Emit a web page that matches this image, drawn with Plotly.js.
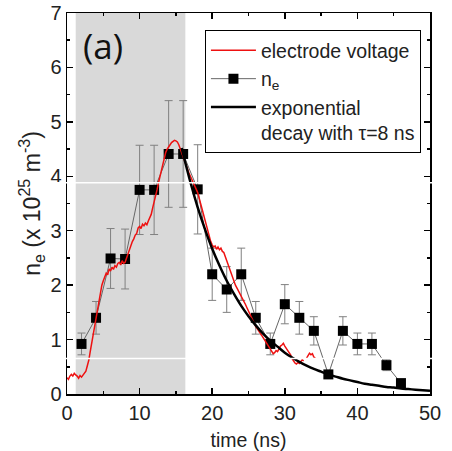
<!DOCTYPE html>
<html>
<head>
<meta charset="utf-8">
<script src="https://cdn.plot.ly/plotly-3.0.1.min.js"></script>
<style>html,body{margin:0;padding:0;background:#fff;}#chart{width:452px;height:451px;}</style>
</head>
<body>
<div id="chart"></div>
<script>
// n_e measurements (x 10^25 m^-3)
const neTime = [2,4,6,8,10,12,14,16,18,20,22,24,26,28,30,32,34,36,38,40,42,44,46];
const neValue = [0.92,1.40,2.49,2.48,3.75,3.75,4.41,4.41,3.76,2.20,1.92,2.20,1.40,0.92,1.65,1.40,1.16,0.36,1.16,0.92,0.92,0.53,0.20];
const neError = [0.20,0.30,0.55,0.55,0.82,0.82,0.98,0.98,0.82,0.48,0.42,0.48,0.30,0.20,0.36,0.30,0.26,0.07,0.26,0.20,0.20,0.10,0.04];

// electrode voltage trace (scaled)
const voltTime = [0.0,0.2,0.4,0.6,0.8,1.0,1.2,1.4,1.6,1.8,2.0,2.2,2.4,2.6,2.8,3.0,3.2,3.4,3.6,3.8,
  4.0,4.2,4.4,4.6,4.8,5.0,5.2,5.4,5.6,5.8,6.0,6.2,6.4,6.6,6.8,7.0,7.2,7.4,7.6,7.8,
  8.0,8.2,8.4,8.6,8.8,9.0,9.2,9.4,9.6,9.8,10.0,10.2,10.4,10.6,10.8,11.0,11.2,11.4,11.6,11.8,
  12.0,12.2,12.4,12.6,12.8,13.0,13.2,13.4,13.6,13.8,14.0,14.2,14.4,14.6,14.8,15.0,15.2,15.4,15.6,15.8,
  16.0,16.2,16.4,16.6,16.8,17.0,17.2,17.4,17.6,17.8,18.0,18.2,18.4,18.6,18.8,19.0,19.2,19.4,19.6,19.8,
  20.0,20.2,20.4,20.6,20.8,21.0,21.2,21.4,21.6,21.8,22.0,22.2,22.4,22.6,22.8,23.0,23.2,23.4,23.6,23.8,
  24.0,24.2,24.4,24.6,24.8,25.0,25.2,25.4,25.6,25.8,26.0,26.2,26.4,26.6,26.8,27.0,27.2,27.4,27.6,27.8,
  28.0,28.2,28.4,28.6,28.8,29.0,29.2,29.4,29.6,29.8,30.0,30.2,30.4,30.6,30.8,31.0,31.2,31.4,31.6,31.8,
  32.0,32.2,32.4,32.6,32.8,33.0,33.2,33.4,33.6,33.8,34.0,34.2];
const voltValue = [0.30,0.27,0.33,0.36,0.33,0.38,0.35,0.33,0.29,0.34,0.31,0.35,0.37,0.42,0.52,0.62,0.78,0.93,1.05,1.22,
  1.38,1.52,1.68,1.88,2.00,2.08,2.16,2.22,2.19,2.30,2.26,2.33,2.29,2.36,2.33,2.40,2.42,2.37,2.45,2.40,
  2.42,2.50,2.55,2.66,2.72,2.80,2.85,2.92,2.95,3.05,3.08,3.04,3.12,3.09,3.14,3.11,3.18,3.24,3.30,3.42,
  3.52,3.64,3.75,3.88,4.00,4.14,4.25,4.36,4.44,4.50,4.55,4.58,4.62,4.64,4.66,4.65,4.63,4.58,4.50,4.42,
  4.35,4.28,4.20,4.12,4.06,4.00,3.94,3.88,3.84,3.78,3.70,3.60,3.50,3.38,3.28,3.18,3.08,2.98,2.88,2.80,
  2.74,2.70,2.72,2.66,2.70,2.65,2.68,2.62,2.60,2.52,2.45,2.38,2.30,2.24,2.14,2.08,2.00,1.95,1.90,1.86,
  1.80,1.75,1.70,1.64,1.58,1.52,1.47,1.42,1.36,1.30,1.24,1.20,1.15,1.12,1.08,1.04,1.00,0.96,0.92,0.87,
  0.82,0.78,0.74,0.76,0.80,0.78,0.84,0.88,0.90,0.93,0.88,0.84,0.80,0.78,0.72,0.65,0.60,0.57,0.55,0.58,
  0.56,0.60,0.63,0.61,null,0.66,0.70,0.75,0.72,0.74,0.68,0.66];

// exponential decay curve, tau = 8 ns
const expTime = [15.8,16,17,18,19,20,21,22,23,24,25,26,27,28,29,30,31,32,33,34,35,36,37,38,39,40,41,42,43,44,45,46,47,48,49,50];
const expValue = [4.52,4.41,3.89,3.43,3.03,2.67,2.36,2.08,1.84,1.62,1.43,1.26,1.11,0.98,0.87,0.76,0.67,0.59,0.52,0.46,0.41,0.36,0.32,0.28,0.25,0.22,0.19,0.17,0.15,0.13,0.12,0.10,0.09,0.08,0.07,0.06];

// shaded pulse window (ns)
const pulseWindow = [1.2, 16.3];

const traces = [
  {
    x: neTime, y: neValue, name: 'n<sub>e</sub>', type: 'scatter', mode: 'lines+markers',
    line: {color: '#666666', width: 1},
    marker: {symbol: 'square', size: 10, color: '#000000'},
    error_y: {type: 'data', array: neError, visible: true, color: '#808080', thickness: 1, width: 4},
    legendrank: 2
  },
  {
    x: voltTime, y: voltValue, name: 'electrode voltage', type: 'scatter', mode: 'lines',
    line: {color: '#ee1111', width: 1.5}, connectgaps: false, legendrank: 1
  },
  {
    x: expTime, y: expValue, name: 'exponential<br>decay with \u03c4=8 ns', type: 'scatter', mode: 'lines',
    line: {color: '#000000', width: 2.5, shape: 'spline'}, legendrank: 3
  }
];

const tickFont = {family: '"Liberation Sans Narrow", "Liberation Sans", Arial, sans-serif', size: 20, color: '#222'};
const layout = {
  width: 452, height: 451,
  margin: {l: 67, r: 22, t: 13, b: 57},
  paper_bgcolor: '#ffffff', plot_bgcolor: '#ffffff',
  font: {family: '"Liberation Sans", Arial, sans-serif', color: '#222'},
  showlegend: true,
  legend: {
    x: 0.380, y: 0.955, xanchor: 'left', yanchor: 'top',
    bgcolor: '#ffffff', bordercolor: '#000000', borderwidth: 1,
    font: {size: 19.5, color: '#222'}, valign: 'top', itemwidth: 45, tracegroupgap: 0
  },
  xaxis: {
    range: [0, 50], dtick: 10, tick0: 0,
    showgrid: false, zeroline: false,
    showline: true, linecolor: '#000', linewidth: 1.5, mirror: 'ticks',
    ticks: 'inside', ticklen: 6, tickwidth: 1.5, tickcolor: '#000',
    minor: {dtick: 5, ticks: 'inside', ticklen: 3, tickwidth: 1.5, tickcolor: '#000', showgrid: false},
    tickfont: tickFont,
    title: {text: 'time (ns)', font: {size: 19.5, color: '#222'}, standoff: 12}
  },
  yaxis: {
    range: [0, 7], dtick: 1, tick0: 0,
    showgrid: false, zeroline: false,
    showline: true, linecolor: '#000', linewidth: 1.5, mirror: 'ticks',
    ticks: 'inside', ticklen: 6, tickwidth: 1.5, tickcolor: '#000',
    minor: {dtick: 0.5, ticks: 'inside', ticklen: 3, tickwidth: 1.5, tickcolor: '#000', showgrid: false},
    tickfont: tickFont,
    title: {text: 'n<sub>e</sub> (x 10<sup>25</sup> m<sup>-3</sup>)', font: {size: 23, color: '#222'}, standoff: 3}
  },
  shapes: [
    {type: 'rect', xref: 'x', yref: 'paper', x0: pulseWindow[0], x1: pulseWindow[1], y0: 0, y1: 1,
     fillcolor: '#d9d9d9', line: {width: 0}, layer: 'below'},
    {type: 'line', xref: 'paper', yref: 'y', x0: -0.19, x1: 1.07, y0: 3.88, y1: 3.88,
     line: {color: '#ffffff', width: 1.5}, layer: 'above'},
    {type: 'line', xref: 'paper', yref: 'y', x0: -0.19, x1: 1.07, y0: 0.65, y1: 0.65,
     line: {color: '#ffffff', width: 1.5}, layer: 'above'}
  ],
  annotations: [
    {text: '(a)', xref: 'paper', yref: 'paper', x: 0.099, y: 0.916, xanchor: 'center', yanchor: 'middle',
     showarrow: false, font: {family: '"Open Sans", "Liberation Sans", sans-serif', size: 35, color: '#111'}}
  ]
};

Plotly.newPlot('chart', traces, layout, {displayModeBar: false, staticPlot: true});
</script>
</body>
</html>
